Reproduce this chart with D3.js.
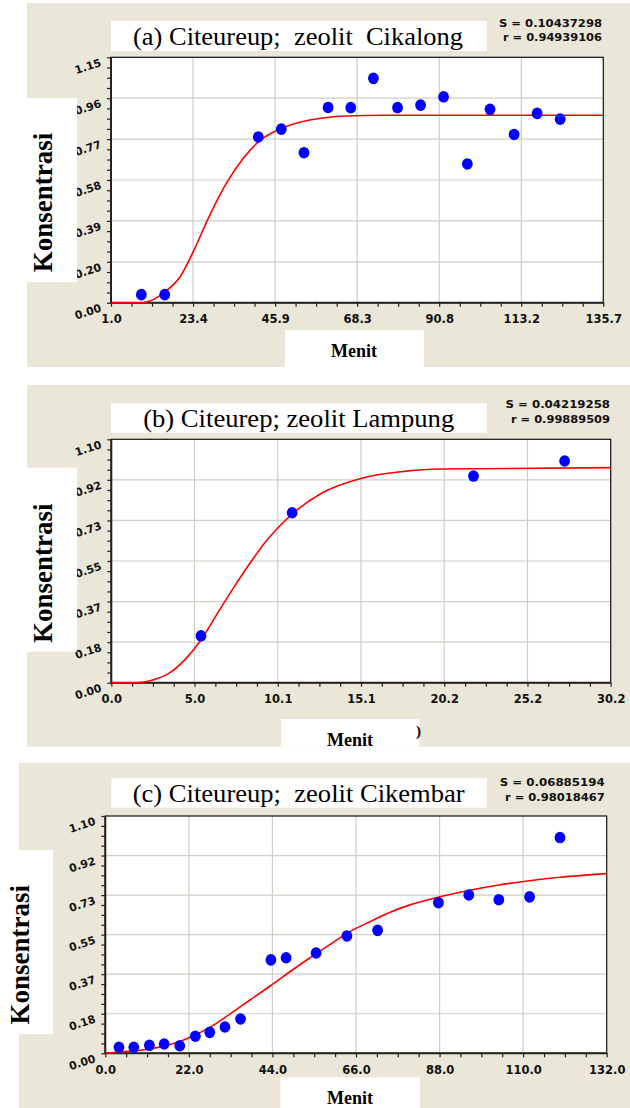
<!DOCTYPE html>
<meta charset="utf-8">
<script src="https://d3js.org/d3.v7.min.js"></script>
<style>
  body { margin: 0; background: #fff; }
  svg { display: block; }
</style>
<div id="my_dataviz"></div>
<script>

  // ---- panel (a) ----
  const titleA = "(a) Citeureup;  zeolit  Cikalong";
  const statsA = ["S = 0.10437298", "r = 0.94939106"];
  const xLabelsA = ["1.0", "23.4", "45.9", "68.3", "90.8", "113.2", "135.7"];
  const yLabelsA = ["0.00", "0.20", "0.39", "0.58", "0.77", "0.96", "1.15"];
  const menitA = [9.3, 15.7, 41.3, 47.6, 53.8, 60.4, 66.6, 72.8, 79.4, 85.7, 92.0, 98.5, 104.7, 111.3, 117.6, 123.9];
  const konsA = [0.038, 0.038, 0.780, 0.817, 0.706, 0.919, 0.918, 1.056, 0.918, 0.930, 0.969, 0.653, 0.910, 0.792, 0.891, 0.864];
  const fitXA = [1, 9.5, 12, 15.3, 19.9, 23.5, 28.1, 32.7, 37.2, 41.8, 46.3, 50.9, 55.4, 60.0, 65.5, 75, 135.7];
  const fitYA = [0, 0, 0.01, 0.045, 0.122, 0.24, 0.415, 0.566, 0.68, 0.764, 0.81, 0.841, 0.86, 0.872, 0.879, 0.882, 0.882];

  // ---- panel (b) ----
  const titleB = "(b) Citeurep; zeolit Lampung";
  const statsB = ["S = 0.04219258", "r = 0.99889509"];
  const xLabelsB = ["0.0", "5.0", "10.1", "15.1", "20.2", "25.2", "30.2"];
  const yLabelsB = ["0.00", "0.18", "0.37", "0.55", "0.73", "0.92", "1.10"];
  const menitB = [5.43, 10.95, 21.93, 27.45];
  const konsB = [0.212, 0.768, 0.934, 1.002];
  const fitXB = [0, 1.53, 2.5, 3.48, 4.45, 5.43, 6.4, 7.37, 8.35, 9.32, 10.29, 11.27, 12.73, 15.16, 17.6, 20.0, 22.46, 30.24];
  const fitYB = [0, 0, 0.012, 0.042, 0.103, 0.193, 0.31, 0.425, 0.535, 0.635, 0.715, 0.782, 0.856, 0.924, 0.954, 0.966, 0.967, 0.972];

  // ---- panel (c) ----
  const titleC = "(c) Citeureup;  zeolit Cikembar";
  const statsC = ["S = 0.06885194", "r = 0.98018467"];
  const xLabelsC = ["0.0", "22.0", "44.0", "66.0", "88.0", "110.0", "132.0"];
  const yLabelsC = ["0.00", "0.18", "0.37", "0.55", "0.73", "0.92", "1.10"];
  const menitC = [3.6, 7.5, 11.6, 15.5, 19.6, 23.7, 27.5, 31.5, 35.6, 43.6, 47.6, 55.5, 63.6, 71.7, 87.7, 95.7, 103.6, 111.7, 119.7];
  const konsC = [0.028, 0.028, 0.037, 0.043, 0.035, 0.079, 0.097, 0.122, 0.159, 0.433, 0.443, 0.465, 0.544, 0.570, 0.698, 0.734, 0.712, 0.725, 1.0];
  const fitXC = [0, 4, 11.6, 19.6, 23.7, 27.5, 32.8, 38.1, 43.4, 48.6, 53.9, 59.2, 64.4, 69.7, 75.0, 80.2, 85.5, 88.1, 95.7, 103.6, 111.7, 119.7, 132];
  const fitYC = [0, 0.006, 0.02, 0.055, 0.085, 0.12, 0.182, 0.247, 0.312, 0.378, 0.443, 0.505, 0.564, 0.610, 0.654, 0.688, 0.714, 0.726, 0.755, 0.78, 0.80, 0.816, 0.833];

  const serif = "'Liberation Serif', 'Times New Roman', serif";
  const sans = "'DejaVu Sans', Verdana, sans-serif";
  const beige = "#eae6d8";

  const svg = d3.select("#my_dataviz")
    .append("svg")
    .attr("width", 630)
    .attr("height", 1108);

  // layout of each panel (pixels)
  const panels = [
    {
      id: "a", title: titleA, stats: statsA, xLabels: xLabelsA, yLabels: yLabelsA,
      xs: menitA, ys: konsA, fx: fitXA, fy: fitYA,
      xDomain: [1, 135.7], yDomain: [0, 1.155],
      bg: [27, 3, 630, 367], titleBox: [111, 21, 487, 51], titleX: 298, titleY: 44.5, titleLen: 330,
      statsX: 602, statsY: [26.7, 40.7], statsLen: [103, 99],
      plot: [111, 57.3, 603.3, 302.7],
      yBox: [0, 98, 77, 282], yTextX: 52, yTextY: 202.5,
      xBox: [285, 330, 424, 367], xTextX: 354, xTextY: 356.7
    },
    {
      id: "b", title: titleB, stats: statsB, xLabels: xLabelsB, yLabels: yLabelsB,
      xs: menitB, ys: konsB, fx: fitXB, fy: fitYB,
      xDomain: [0, 30.24], yDomain: [0, 1.1],
      bg: [27, 385, 630, 746.7], titleBox: [111, 403.3, 487, 432.7], titleX: 298.7, titleY: 426.8, titleLen: 311,
      statsX: 610, statsY: [408.3, 422.7], statsLen: [104.5, 99],
      plot: [111.3, 439.3, 610.7, 682.7],
      yBox: [0, 467.7, 77, 651.7], yTextX: 52, yTextY: 573.3,
      xBox: [281, 719, 419.3, 746.7], xTextX: 350, xTextY: 746,
      stray: true
    },
    {
      id: "c", title: titleC, stats: statsC, xLabels: xLabelsC, yLabels: yLabelsC,
      xs: menitC, ys: konsC, fx: fitXC, fy: fitYC,
      xDomain: [0, 132], yDomain: [0, 1.1],
      bg: [19, 762.7, 630, 1108], titleBox: [111.3, 778.3, 487, 807.7], titleX: 298.7, titleY: 801.6, titleLen: 332,
      statsX: 604.7, statsY: [786, 800.7], statsLen: [105, 99.7],
      plot: [105.3, 816, 606.7, 1053.3],
      yBox: [0, 850, 53, 1034], yTextX: 29, yTextY: 954.7,
      xBox: [280.4, 1077.3, 419.9, 1108], xTextX: 350, xTextY: 1104
    }
  ];

  function box(g, b, fill) {
    g.append("rect")
      .attr("x", b[0]).attr("y", b[1])
      .attr("width", b[2] - b[0]).attr("height", b[3] - b[1])
      .attr("fill", fill);
  }

  panels.forEach(function (p) {
    const g = svg.append("g").attr("class", "panel-" + p.id);
    const [left, top, right, bottom] = p.plot;

    box(g, p.bg, beige);
    box(g, p.titleBox, "#fff");

    g.append("text")
      .attr("x", p.titleX).attr("y", p.titleY)
      .attr("text-anchor", "middle")
      .attr("xml:space", "preserve")
      .style("white-space", "pre")
      .attr("font-family", serif)
      .attr("font-size", 25)
      .attr("textLength", p.titleLen)
      .attr("lengthAdjust", "spacingAndGlyphs")
      .text(p.title);

    p.stats.forEach(function (s, i) {
      const w = p.statsLen[i];
      g.append("text")
        .attr("x", p.statsX - w).attr("y", p.statsY[i])
        .attr("font-family", sans)
        .attr("font-weight", "bold")
        .attr("font-size", 10.2)
        .attr("textLength", w)
        .attr("lengthAdjust", "spacingAndGlyphs")
        .attr("fill", "#111")
        .text(s);
    });

    box(g, p.plot, "#fff");

    const x = d3.scaleLinear().domain(p.xDomain).range([left, right]);
    const y = d3.scaleLinear().domain(p.yDomain).range([bottom, top]);

    const nx = p.xLabels.length - 1, ny = p.yLabels.length - 1;
    const xStep = (p.xDomain[1] - p.xDomain[0]) / nx;
    const yStep = (p.yDomain[1] - p.yDomain[0]) / ny;
    const xMajor = p.xLabels.map((d, i) => p.xDomain[0] + i * xStep);
    const yMajor = p.yLabels.map((d, i) => p.yDomain[0] + i * yStep);
    const xMinor = d3.range(nx * 4 + 1).map(i => p.xDomain[0] + i * xStep / 4);
    const yMinor = d3.range(ny * 4 + 1).map(i => p.yDomain[0] + i * yStep / 4);

    // grid
    g.append("g").selectAll("line").data(xMajor.slice(1, -1)).join("line")
      .attr("x1", d => x(d)).attr("x2", d => x(d))
      .attr("y1", top).attr("y2", bottom)
      .attr("stroke", "#cfcfc6").attr("stroke-width", 1.2);
    g.append("g").selectAll("line").data(yMajor.slice(1, -1)).join("line")
      .attr("x1", left).attr("x2", right)
      .attr("y1", d => y(d)).attr("y2", d => y(d))
      .attr("stroke", "#cfcfc6").attr("stroke-width", 1.2);

    // axes: minor ticks from d3, labels on majors
    const xAxis = g.append("g")
      .attr("transform", `translate(0,${bottom})`)
      .call(d3.axisBottom(x).tickValues(xMinor).tickSize(4).tickPadding(8.5)
        .tickFormat((d, i) => i % 4 === 0 ? p.xLabels[i / 4] : ""));
    xAxis.select(".domain").remove();
    xAxis.selectAll("line").attr("stroke", "#222").attr("stroke-width", 1.2);
    xAxis.selectAll("text")
      .attr("font-family", sans).attr("font-weight", "bold")
      .attr("font-size", 11.5).attr("fill", "#111");

    const yAxis = g.append("g")
      .attr("transform", `translate(${left},0)`)
      .call(d3.axisLeft(y).tickValues(yMinor).tickSize(4).tickFormat(""));
    yAxis.select(".domain").remove();
    yAxis.selectAll("line").attr("stroke", "#222").attr("stroke-width", 1.2);

    g.append("g").selectAll("text").data(yMajor).join("text")
      .attr("transform", (d) => `translate(${left - 9},${y(d) + 8.5}) rotate(-18)`)
      .attr("text-anchor", "end")
      .attr("font-family", sans).attr("font-weight", "bold")
      .attr("font-size", 11).attr("fill", "#111")
      .text((d, i) => p.yLabels[i]);

    // frame
    g.append("rect")
      .attr("x", left).attr("y", top)
      .attr("width", right - left).attr("height", bottom - top)
      .attr("fill", "none").attr("stroke", "#111").attr("stroke-width", 1.2);
    g.append("path")
      .attr("d", `M${left},${top}V${bottom}H${right}`)
      .attr("fill", "none").attr("stroke", "#222").attr("stroke-width", 2);

    // fitted curve
    const clipId = "clip-" + p.id;
    g.append("clipPath").attr("id", clipId)
      .append("rect")
      .attr("x", left).attr("y", top)
      .attr("width", right - left).attr("height", bottom - top + 1);
    g.append("path")
      .datum(p.fx.map((d, i) => [d, p.fy[i]]))
      .attr("clip-path", `url(#${clipId})`)
      .attr("fill", "none")
      .attr("stroke", "#ff0000")
      .attr("stroke-width", 1.6)
      .attr("d", d3.line()
        .curve(d3.curveMonotoneX)
        .x(d => x(d[0]))
        .y(d => y(d[1])));

    // observed points
    g.append("g").selectAll("ellipse").data(p.xs).join("ellipse")
      .attr("cx", d => x(d))
      .attr("cy", (d, i) => y(p.ys[i]))
      .attr("rx", 5.4).attr("ry", 5.8)
      .attr("fill", "#0000ff");

    // y label
    box(g, p.yBox, "#fff");
    g.append("text")
      .attr("transform", `translate(${p.yTextX},${p.yTextY}) rotate(-90)`)
      .attr("text-anchor", "middle")
      .attr("font-family", serif).attr("font-weight", "bold")
      .attr("font-size", 27)
      .text("Konsentrasi");

    // x label
    box(g, p.xBox, "#fff");
    g.append("text")
      .attr("x", p.xTextX).attr("y", p.xTextY)
      .attr("text-anchor", "middle")
      .attr("font-family", serif).attr("font-weight", "bold")
      .attr("font-size", 18)
      .text("Menit");

    if (p.stray) {
      g.append("text")
        .attr("x", 416).attr("y", 736)
        .attr("font-family", serif).attr("font-weight", "bold")
        .attr("font-size", 15)
        .text(")");
    }
  });

</script>
